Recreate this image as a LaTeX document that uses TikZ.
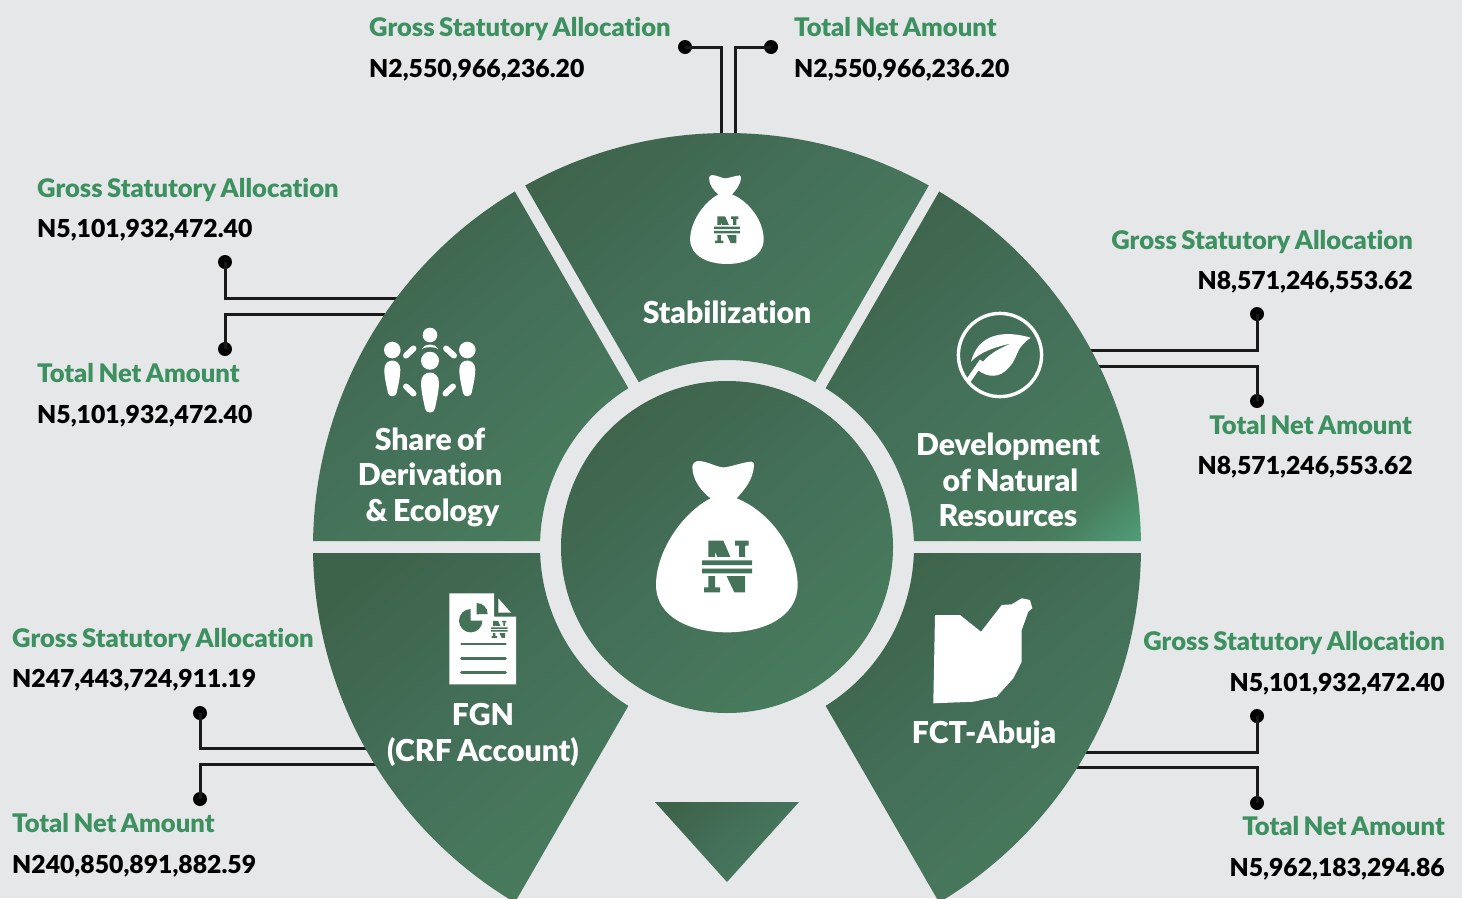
\documentclass[tikz,border=0pt]{standalone}
\usepackage{fontspec}
\setmainfont{Lato}[BoldFont={Lato Black},Ligatures=NoCommon,WordSpace=0.75]
\usetikzlibrary{calc}
\definecolor{bgc}{HTML}{E6E7E9}
\definecolor{g1}{HTML}{3E634B}
\definecolor{g2}{HTML}{44705A}
\definecolor{g3}{HTML}{487C5C}
\definecolor{g4}{HTML}{50A07A}
\definecolor{iconfill}{HTML}{45735A}
\definecolor{headgreen}{HTML}{3D9160}
\definecolor{linec}{HTML}{1A1A1A}
\pgfdeclarehorizontalshading{segshading}{100bp}{color(0bp)=(g1);color(22bp)=(g1);color(50bp)=(g2);color(76bp)=(g3);color(86bp)=(g4);color(100bp)=(g4)}
\newcommand\nairashape{%
    \fill[iconfill] (-56,-19)--(-11,-19)--(36,89)--(36,-4)--(24,-4)--(24,-19)--(65,-19)--(65,-4)--(54,-4)--(54,136)--(22,136)--(-36,14)--(-36,121)--(-21,121)--(-21,136)--(-69,136)--(-69,121)--(-56,121)--cycle;
    \fill[white] (-75,31) rectangle (75,88);
    \fill[iconfill] (-75,40) rectangle (75,54) (-75,65) rectangle (75,79);
}
\tikzset{
  segshade/.style={shading=segshading,shading angle=-50},
  headlabel/.style={inner sep=0pt,text=headgreen,font=\fontsize{25.6}{26}\selectfont\bfseries},
  amount/.style={inner sep=0pt,text=black,font=\fontsize{24.75}{26}\selectfont\bfseries},
  seglabel/.style={inner sep=0pt,text=white,align=center,font=\fontsize{30.2}{35.5}\selectfont\bfseries},
  dot/.style={circle,fill=black,minimum size=14pt,inner sep=0pt},
  wire/.style={draw=linec,line width=3pt},
  nairamark/.pic={\nairashape},
  moneybag/.pic={
    \fill[white] (-49,-146) .. controls (-76,-166) and (-104,-201) .. (-104,-241)
      .. controls (-104,-250) and (-95,-258) .. (-86,-258)
      .. controls (-60,-258) and (-30,-239) .. (-11,-239)
      .. controls (10,-239) and (50,-256) .. (74,-256)
      .. controls (80,-256) and (81,-250) .. (81,-246)
      .. controls (79,-200) and (50,-170) .. (29,-146)
      .. controls (130,-106) and (212,10) .. (212,114)
      .. controls (212,210) and (110,256) .. (0,256)
      .. controls (-110,256) and (-213,210) .. (-213,114)
      .. controls (-213,10) and (-130,-106) .. (-49,-146) -- cycle;
    \nairashape
  },
  personbody/.pic={
    \fill[white] (-8,9) .. controls (-8,3) and (-4,0) .. (0,0) .. controls (4,0) and (8,3) .. (8,9)
      .. controls (8,18) and (5,28) .. (4.5,32) .. controls (4,37) and (-4,37) .. (-4.5,32)
      .. controls (-5,28) and (-8,18) .. (-8,9) -- cycle;
  }
}
\begin{document}
\begin{tikzpicture}[x=1pt,y=-1pt]
\useasboundingbox (0,0) rectangle (1462,898);
\clip (0,0) rectangle (1462,898);
\fill[bgc] (0,0) rectangle (1462,898);

% dots
\node[dot] (a1) at (685,47) {};
\node[dot] (a2) at (771,47) {};
\node[dot] (b1) at (225,262) {};
\node[dot] (b2) at (225,349) {};
\node[dot] (c1) at (1257,314) {};
\node[dot] (c2) at (1257,401) {};
\node[dot] (d1) at (200,713) {};
\node[dot] (d2) at (200,799) {};
\node[dot] (e1) at (1257,716) {};
\node[dot] (e2) at (1257,803) {};
% connector ends, hidden under the ring
\coordinate (A1) at (721,140);
\coordinate (A2) at (735,140);
\coordinate (B1) at (402,298);
\coordinate (B2) at (392,314);
\coordinate (C1) at (1085,350);
\coordinate (C2) at (1093,366);
\coordinate (D1) at (372,748);
\coordinate (D2) at (382,764);
\coordinate (E1) at (1080,752);
\coordinate (E2) at (1071,767);
\draw[wire] (a1.center) -| (A1);
\draw[wire] (a2.center) -| (A2);
\draw[wire] (b1.center) |- (B1);
\draw[wire] (b2.center) |- (B2);
\draw[wire] (c1.center) |- (C1);
\draw[wire] (c2.center) |- (C2);
\draw[wire] (d1.center) |- (D1);
\draw[wire] (d2.center) |- (D2);
\draw[wire] (e1.center) |- (E1);
\draw[wire] (e2.center) |- (E2);

% ring
\begin{scope}[x=1pt,y=1pt,shift={(727pt,-547pt)}]
\foreach \p/\q in {60/120,0/60,120/180,180/240,-60/0}{
  \shade[segshade] ({\p+0.83}:414pt) arc[start angle={\p+0.83},end angle={\q-0.83},radius=414pt]
    -- ({\q-1.84}:187pt) arc[start angle={\q-1.84},end angle={\p+1.84},radius=187pt] -- cycle;
}
\shade[segshade] (0,0) circle[radius=166pt];
\end{scope}
\shade[segshade] (655,802) -- (799,802) -- (727,882) -- cycle;

% icons
\pic[scale=0.3333] at (727,547) {moneybag};
\pic[scale=0.173] at (727,219.7) {moneybag};

% people
\fill[white] (430,335) circle[radius=7.3pt] (430,360.7) circle[radius=9pt]
  (392.3,350) circle[radius=8.3pt] (467.3,350) circle[radius=8.3pt];
\fill[white] (421.5,349) .. controls (425,343) and (435,343) .. (438.5,349) .. controls (434,346.5) and (426,346.5) .. (421.5,349) -- cycle;
\pic[scale=1.12] at (430,372.5) {personbody};
\pic at (392.3,360.5) {personbody};
\pic at (467.3,360.5) {personbody};
\draw[white,line width=6pt,line cap=round] (406,355.5) -- (413.5,348.5) (446,348.5) -- (454,355.5)
  (406,386.5) -- (413.5,393.5) (453,386.5) -- (445.5,393.5);

% document
\fill[white] (449.3,593.3) -- (494,593.3) -- (494,616.7) -- (516,616.7) -- (516,684.3) -- (449.3,684.3) -- cycle;
\fill[white] (498.3,598.3) -- (511,612.7) -- (498.3,612.7) -- cycle;
\fill[iconfill] (470.7,620.7) -- (470.7,609) arc[start angle=90,delta angle=270,radius=11.7pt] -- cycle;
\fill[iconfill] (476.7,614.3) -- (476.7,603) arc[start angle=90,delta angle=-90,radius=11pt] -- cycle;
\pic[scale=0.11] at (499.3,622.9) {nairamark};
\draw[iconfill,line width=2.6pt,line cap=round] (461.5,644) -- (505.5,644) (461.5,658.3) -- (505.5,658.3) (461.5,672.3) -- (505.5,672.3);

% Nigeria / FCT map
\fill[white] (935,615) -- (960,615) -- (981,631.7) -- (1001.7,605) -- (1011.7,604.3) -- (1021.7,598.3) -- (1030,600) -- (1032.3,608.3) -- (1028.3,611.7) -- (1021.7,630) -- (1021.7,661.7) -- (1013.3,678.3) -- (996.7,696.7) -- (973.3,701.7) -- (933.3,703.3) -- cycle;

% leaf
\draw[white,line width=3.4pt] (1000,355) circle[radius=41.6pt];
\fill[white] (1030.7,337.7) .. controls (1015,333) and (980,327) .. (971,361.7)
  .. controls (980,352) and (995,347) .. (1011.7,343.3)
  .. controls (995,350) and (983,358) .. (977.7,370)
  .. controls (988,378) and (1000,378) .. (1008.3,368)
  .. controls (1015,362) and (1017,352) .. (1020,348)
  .. controls (1023,344) and (1027,340) .. (1030.7,337.7) -- cycle;
\draw[white,line width=5pt] (982,361) -- (968.5,380.5);

% segment labels
\node[seglabel] (lstab) at (727,312) {Stabilization};
\node[seglabel] (lshare) at (430,477) {Share of\\Derivation\\\hspace*{5pt}\& Ecology};
\node[seglabel] (ldev) at (1008,480) {Development\\\hspace*{5pt}of Natural\\Resources};
\node[seglabel] (lfgn) at (483,735) {FGN\\(CRF Account)};
\node[seglabel] (lfct) at (984,735) {FCT-Abuja};

% side labels
\node[headlabel,anchor=base west] (ta1) at (369,36) {Gross Statutory Allocation};
\node[amount,anchor=base west] (ta2) at (369,77) {N2,550,966,236.20};
\node[headlabel,anchor=base west] (ta3) at (794,36) {Total Net Amount};
\node[amount,anchor=base west] (ta4) at (794,77) {N2,550,966,236.20};
\node[headlabel,anchor=base west] (tb1) at (37,197) {Gross Statutory Allocation};
\node[amount,anchor=base west] (tb2) at (37,237) {N5,101,932,472.40};
\node[headlabel,anchor=base west] (tb3) at (37,382) {Total Net Amount};
\node[amount,anchor=base west] (tb4) at (37,423) {N5,101,932,472.40};
\node[headlabel,anchor=base east] (tc1) at (1413,249) {Gross Statutory Allocation};
\node[amount,anchor=base east] (tc2) at (1413,289) {N8,571,246,553.62};
\node[headlabel,anchor=base east] (tc3) at (1412,434) {Total Net Amount};
\node[amount,anchor=base east] (tc4) at (1413,474) {N8,571,246,553.62};
\node[headlabel,anchor=base west] (td1) at (12,647) {Gross Statutory Allocation};
\node[amount,anchor=base west] (td2) at (12,687) {N247,443,724,911.19};
\node[headlabel,anchor=base west] (td3) at (12,832) {Total Net Amount};
\node[amount,anchor=base west] (td4) at (12,873) {N240,850,891,882.59};
\node[headlabel,anchor=base east] (te1) at (1445,650) {Gross Statutory Allocation};
\node[amount,anchor=base east] (te2) at (1445,691) {N5,101,932,472.40};
\node[headlabel,anchor=base east] (te3) at (1445,835) {Total Net Amount};
\node[amount,anchor=base east] (te4) at (1445,876) {N5,962,183,294.86};
\end{tikzpicture}
\end{document}
